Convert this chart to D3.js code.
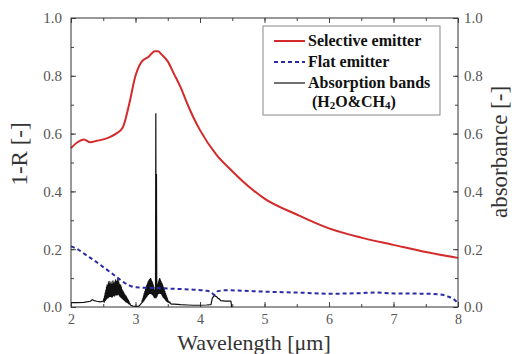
<!DOCTYPE html>
<html>
<head>
<meta charset="utf-8">
<script src="https://cdn.jsdelivr.net/npm/d3@7"></script>
<style>
  body { margin: 0; background: #fff; }
</style>
</head>
<body>
<svg id="chart" width="512" height="354"></svg>
<script>
// selective emitter (1-R)
const selX = [2.0, 2.1, 2.2, 2.3, 2.4, 2.5, 2.6, 2.7, 2.8, 2.9, 3.0, 3.1, 3.2, 3.3, 3.35, 3.4, 3.5, 3.6, 3.7, 3.8, 3.9, 4.0, 4.25, 4.5, 4.75, 5.0, 5.5, 6.0, 6.5, 7.0, 7.5, 8.0];
const selY = [0.55, 0.57, 0.58, 0.57, 0.575, 0.58, 0.588, 0.6, 0.62, 0.7, 0.8, 0.85, 0.865, 0.885, 0.885, 0.875, 0.85, 0.805, 0.76, 0.705, 0.655, 0.612, 0.528, 0.47, 0.418, 0.375, 0.32, 0.272, 0.24, 0.215, 0.19, 0.17];

// flat emitter (1-R)
const flatX = [2.0, 2.1, 2.2, 2.3, 2.4, 2.5, 2.6, 2.7, 2.8, 2.9, 3.0, 3.1, 3.3, 3.5, 3.7, 3.9, 4.1, 4.18, 4.22, 4.28, 4.4, 4.6, 5.0, 5.5, 6.0, 6.5, 6.7, 7.0, 7.5, 7.7, 7.85, 7.95, 8.0];
const flatY = [0.21, 0.2, 0.185, 0.17, 0.155, 0.138, 0.122, 0.105, 0.088, 0.075, 0.068, 0.067, 0.066, 0.064, 0.062, 0.06, 0.056, 0.05, 0.042, 0.055, 0.058, 0.057, 0.053, 0.05, 0.046, 0.048, 0.05, 0.047, 0.046, 0.044, 0.036, 0.024, 0.012];

// absorption bands (H2O & CH4)
const absX = [2.0, 2.1, 2.2, 2.3, 2.33, 2.36, 2.4, 2.45, 2.5,
  2.51, 2.515, 2.52, 2.525, 2.53, 2.535, 2.54, 2.545, 2.55, 2.555, 2.56, 2.565, 2.57, 2.575, 2.58, 2.585, 2.59, 2.595, 2.6, 2.605,
  2.61, 2.615, 2.62, 2.625, 2.63, 2.635, 2.64, 2.645, 2.65, 2.655, 2.66, 2.665, 2.67, 2.675, 2.68, 2.685, 2.69, 2.695, 2.7, 2.705,
  2.71, 2.715, 2.72, 2.725, 2.73, 2.735, 2.74, 2.745, 2.75, 2.755, 2.76, 2.765, 2.77, 2.775, 2.78, 2.785, 2.79, 2.795, 2.8, 2.805,
  2.81, 2.815, 2.82, 2.825, 2.83, 2.835, 2.84, 2.845, 2.85, 2.855, 2.86, 2.865, 2.87, 2.875, 2.88, 2.885, 2.89, 2.895, 2.9, 2.905,
  2.91, 2.92, 2.93, 2.94, 2.96, 3.0, 3.05, 3.08,
  3.1, 3.105, 3.11, 3.115, 3.12, 3.125, 3.13, 3.135, 3.14, 3.145, 3.15, 3.155, 3.16, 3.165, 3.17, 3.175, 3.18, 3.185, 3.19, 3.195,
  3.2, 3.205, 3.21, 3.215, 3.22, 3.225, 3.23, 3.235, 3.24, 3.245, 3.25, 3.255, 3.26, 3.265, 3.27, 3.275, 3.28, 3.285, 3.29, 3.295,
  3.3, 3.305, 3.31, 3.315, 3.32, 3.325, 3.33, 3.335, 3.34, 3.345, 3.35, 3.355, 3.36, 3.365, 3.37, 3.375, 3.38, 3.385, 3.39, 3.395,
  3.4, 3.405, 3.41, 3.415, 3.42, 3.425, 3.43, 3.435, 3.44, 3.445, 3.45, 3.455, 3.46, 3.465, 3.47, 3.475, 3.48, 3.485, 3.49, 3.495,
  3.5, 3.51, 3.52, 3.53, 3.54, 3.56, 3.6, 3.7, 3.8, 3.9, 4.0, 4.1, 4.17, 4.19, 4.22, 4.26, 4.28, 4.3, 4.32, 4.4, 4.48, 4.49, 4.5];
const absY = [0.015, 0.015, 0.016, 0.02, 0.025, 0.022, 0.02, 0.018, 0.02,
  0.03, 0.015, 0.04, 0.02, 0.05, 0.022, 0.06, 0.025, 0.07, 0.028, 0.078, 0.03, 0.072, 0.03, 0.085, 0.032, 0.09, 0.035, 0.082, 0.035,
  0.075, 0.035, 0.088, 0.035, 0.07, 0.032, 0.08, 0.035, 0.092, 0.04, 0.085, 0.038, 0.072, 0.036, 0.088, 0.04, 0.095, 0.042, 0.09, 0.04,
  0.08, 0.04, 0.095, 0.042, 0.1, 0.042, 0.088, 0.04, 0.08, 0.036, 0.072, 0.034, 0.078, 0.032, 0.07, 0.03, 0.062, 0.028, 0.058, 0.026,
  0.054, 0.024, 0.05, 0.022, 0.046, 0.02, 0.042, 0.018, 0.04, 0.016, 0.036, 0.015, 0.032, 0.014, 0.028, 0.012, 0.024, 0.01, 0.02, 0.009,
  0.014, 0.008, 0.006, 0.005, 0.003, 0.002, 0.002, 0.01,
  0.015, 0.025, 0.015, 0.032, 0.018, 0.04, 0.02, 0.048, 0.024, 0.055, 0.028, 0.062, 0.03, 0.07, 0.034, 0.076, 0.036, 0.082, 0.04, 0.088,
  0.042, 0.092, 0.044, 0.096, 0.045, 0.098, 0.046, 0.1, 0.045, 0.095, 0.044, 0.09, 0.042, 0.085, 0.04, 0.078, 0.036, 0.07, 0.032, 0.06,
  0.03, 0.05, 0.035, 0.67, 0.03, 0.46, 0.035, 0.07, 0.04, 0.08, 0.044, 0.088, 0.045, 0.095, 0.046, 0.1, 0.046, 0.095, 0.045, 0.09,
  0.044, 0.085, 0.04, 0.08, 0.036, 0.074, 0.032, 0.068, 0.03, 0.062, 0.028, 0.055, 0.025, 0.048, 0.022, 0.042, 0.02, 0.036, 0.017, 0.03,
  0.016, 0.022, 0.014, 0.018, 0.012, 0.01, 0.01, 0.008, 0.007, 0.006, 0.006, 0.007, 0.008, 0.03, 0.04, 0.035, 0.03, 0.028, 0.022, 0.02, 0.02, 0.0, 0.0];

const xTicks = [2, 3, 4, 5, 6, 7, 8];
const yTicks = [0.0, 0.2, 0.4, 0.6, 0.8, 1.0];

const serif = "'Liberation Serif', 'Times New Roman', 'DejaVu Serif', serif";

const margin = { top: 18, right: 54, bottom: 47, left: 71 };
const width = 512 - margin.left - margin.right;
const height = 354 - margin.top - margin.bottom;

const svg = d3.select("#chart");
const g = svg.append("g").attr("transform", `translate(${margin.left},${margin.top})`);

const x = d3.scaleLinear().domain([2, 8]).range([0, width]);
const y = d3.scaleLinear().domain([0, 1]).range([height, 0]);
const y2 = d3.scaleLinear().domain([0, 1]).range([height, 0]);

const minorX = d3.range(2, 8.01, 0.5);
const minorY = d3.range(0, 1.01, 0.1);

function styleAxis(sel, size = 15) {
  sel.attr("font-family", serif).attr("font-size", size);
  sel.select(".domain").remove();
  sel.selectAll(".tick line").attr("stroke", "#444");
  sel.selectAll(".tick text").attr("fill", "#555").attr("font-family", serif);
}

// major ticks with labels
g.append("g").attr("transform", `translate(0,${height})`)
  .call(d3.axisBottom(x).tickValues(xTicks).tickFormat(d3.format("d")).tickSizeInner(-5).tickPadding(7))
  .call(styleAxis, 14);
g.append("g")
  .call(d3.axisLeft(y).tickValues(yTicks).tickFormat(d3.format(".1f")).tickSizeInner(-5).tickPadding(9))
  .call(styleAxis);
g.append("g").attr("transform", `translate(${width},0)`)
  .call(d3.axisRight(y2).tickValues(yTicks).tickFormat(d3.format(".1f")).tickSizeInner(-5).tickPadding(6))
  .call(styleAxis);
g.append("g")
  .call(d3.axisTop(x).tickValues(xTicks).tickFormat("").tickSizeInner(-5))
  .call(styleAxis);

// minor ticks
g.append("g").attr("transform", `translate(0,${height})`)
  .call(d3.axisBottom(x).tickValues(minorX).tickFormat("").tickSizeInner(-3)).call(styleAxis);
g.append("g")
  .call(d3.axisTop(x).tickValues(minorX).tickFormat("").tickSizeInner(-3)).call(styleAxis);
g.append("g")
  .call(d3.axisLeft(y).tickValues(minorY).tickFormat("").tickSizeInner(-3)).call(styleAxis);
g.append("g").attr("transform", `translate(${width},0)`)
  .call(d3.axisRight(y2).tickValues(minorY).tickFormat("").tickSizeInner(-3)).call(styleAxis);

const line = d3.line().x(d => x(d[0])).y(d => y(d[1]));

g.append("path")
  .datum(d3.zip(absX, absY))
  .attr("fill", "none")
  .attr("stroke", "#111")
  .attr("stroke-width", 1.2)
  .attr("stroke-linejoin", "bevel")
  .attr("d", line);

g.append("path")
  .datum(d3.zip(flatX, flatY))
  .attr("fill", "none")
  .attr("stroke", "#2a2aa8")
  .attr("stroke-width", 2)
  .attr("stroke-dasharray", "4,3")
  .attr("d", line.curve(d3.curveMonotoneX));

g.append("path")
  .datum(d3.zip(selX, selY))
  .attr("fill", "none")
  .attr("stroke", "#d42a2a")
  .attr("stroke-width", 2)
  .attr("d", line.curve(d3.curveMonotoneX));

// frame
g.append("rect")
  .attr("width", width)
  .attr("height", height)
  .attr("fill", "none")
  .attr("stroke", "#333")
  .attr("stroke-width", 1);

// axis labels
svg.append("text")
  .attr("font-family", serif).attr("font-size", 22).attr("fill", "#333")
  .attr("text-anchor", "middle")
  .attr("x", 254)
  .attr("y", 350)
  .text("Wavelength [μm]");

svg.append("text")
  .attr("font-family", serif).attr("font-size", 23).attr("fill", "#333")
  .attr("text-anchor", "middle")
  .attr("transform", `translate(27,154) rotate(-90)`)
  .text("1-R [-]");

svg.append("text")
  .attr("font-family", serif).attr("font-size", 23).attr("fill", "#333")
  .attr("text-anchor", "middle")
  .attr("transform", `translate(507,152) rotate(-90)`)
  .text("absorbance [-]");

// legend
const legend = svg.append("g")
  .attr("font-family", serif).attr("font-size", 16).attr("font-weight", "bold").attr("fill", "#111");
legend.append("rect")
  .attr("x", 263).attr("y", 26).attr("width", 177).attr("height", 89)
  .attr("fill", "#fff").attr("stroke", "#888");

const legendItems = [
  { label: "Selective emitter", color: "#d42a2a", dash: null, w: 2 },
  { label: "Flat emitter", color: "#2a2aa8", dash: "4,3", w: 2 },
  { label: "Absorption bands", color: "#111", dash: null, w: 1.2 }
];
legendItems.forEach((d, i) => {
  const cy = 41 + i * 21;
  legend.append("line")
    .attr("x1", 274).attr("x2", 305).attr("y1", cy).attr("y2", cy)
    .attr("stroke", d.color).attr("stroke-width", d.w)
    .attr("stroke-dasharray", d.dash);
  legend.append("text").attr("x", 308).attr("y", cy + 5).text(d.label);
});
const sub = legend.append("text").attr("x", 312).attr("y", 107);
sub.append("tspan").text("(H");
sub.append("tspan").attr("font-size", "11px").attr("dy", 2).text("2");
sub.append("tspan").attr("dy", -2).text("O&CH");
sub.append("tspan").attr("font-size", "11px").attr("dy", 2).text("4");
sub.append("tspan").attr("dy", -2).text(")");
</script>
</body>
</html>
